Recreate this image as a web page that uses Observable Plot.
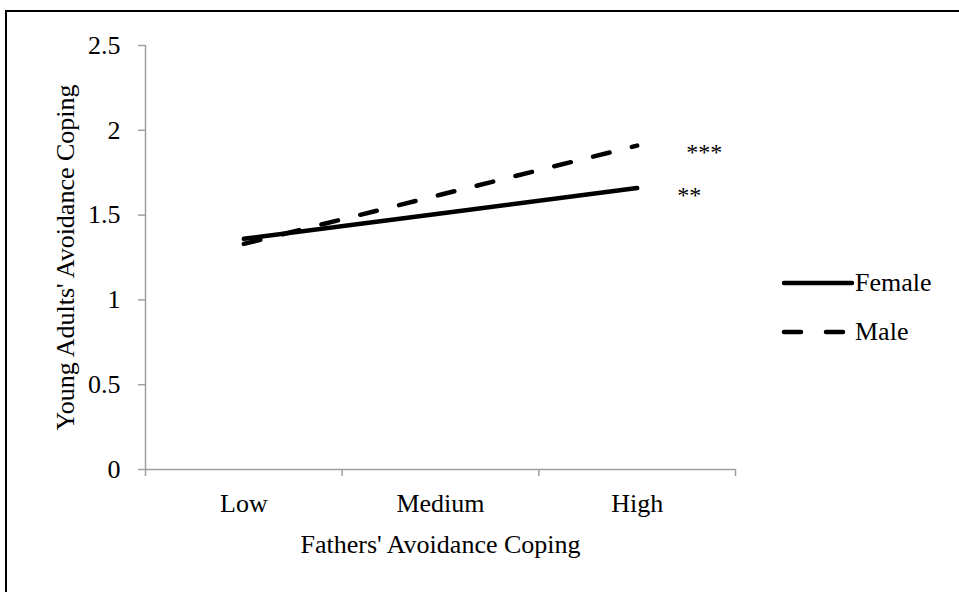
<!DOCTYPE html>
<html>
<head>
<meta charset="utf-8">
<script src="https://cdn.jsdelivr.net/npm/d3@7"></script>
<script src="https://cdn.jsdelivr.net/npm/@observablehq/plot@0.6"></script>
<style>
  html, body { margin: 0; padding: 0; background: #fff; }
  #wrap { position: relative; width: 959px; height: 592px; overflow: hidden; font-family: "Liberation Serif", "Times New Roman", serif; }
  #frame { position: absolute; left: 5px; top: 10px; width: 970px; height: 600px; border-left: 2px solid #000; border-top: 2px solid #000; box-sizing: border-box; }
  #chart { position: absolute; left: 0; top: 0; }
  #legend { position: absolute; left: 780px; top: 268px; font-size: 26px; color: #000; }
  #legend .row { display: flex; align-items: center; height: 30px; margin-bottom: 19px; }
  #legend svg { display: block; }
  g[aria-label="x-axis tick"] path, g[aria-label="y-axis tick"] path { stroke: #a0a0a0; stroke-width: 1.5; }
  g[aria-label^="y-axis"] text, g[aria-label^="x-axis"] text { font-size: 26px !important; }
</style>
</head>
<body>
<div id="wrap">
  <div id="frame"></div>
  <div id="chart"></div>
  <div id="legend"></div>
</div>
<script>
// ---- data ----
const categories = ["Low", "Medium", "High"];
const femaleValues = [1.36, 1.51, 1.66];
const maleValues = [1.33, 1.62, 1.91];
const seriesNames = ["Female", "Male"];
const significance = ["**", "***"];
const yTicks = [0, 0.5, 1, 1.5, 2, 2.5];
const xTitle = "Fathers' Avoidance Coping";
const yTitle = "Young Adults' Avoidance Coping";

const seriesValues = [femaleValues, maleValues];
const rows = seriesNames.flatMap((s, si) =>
  categories.map((c, i) => ({series: s, cat: c, idx: i, value: seriesValues[si][i]})));
const ends = seriesNames.map((s, si) => ({
  series: s, idx: categories.length - 1, value: seriesValues[si][categories.length - 1], mark: significance[si]
}));
const boundaries = d3.range(categories.length + 1).map(i => i - 0.5);
const axisColor = "#a0a0a0";

const plot = Plot.plot({
  width: 959,
  height: 592,
  marginLeft: 145,
  marginRight: 224,
  marginTop: 45,
  marginBottom: 123,
  style: {fontFamily: "Liberation Serif, Times New Roman, serif", fontSize: "26px", color: "#000", background: "transparent"},
  x: {
    type: "linear",
    domain: [-0.5, categories.length - 0.5],
    ticks: boundaries,
    tickFormat: () => "",
    tickSize: 7,
    label: xTitle,
    labelAnchor: "center",
    labelOffset: 83,
    labelArrow: "none"
  },
  y: {
    domain: [0, 2.5],
    ticks: yTicks,
    tickFormat: d => String(d),
    tickSize: 7,
    tickPadding: 18,
    label: yTitle,
    labelAnchor: "center",
    labelOffset: 90,
    labelArrow: "none"
  },
  marks: [
    Plot.ruleY([0], {stroke: axisColor, strokeWidth: 1.5}),
    Plot.ruleX([boundaries[0]], {stroke: axisColor, strokeWidth: 1.5}),
    Plot.text(categories, {x: (d, i) => i, text: d => d, frameAnchor: "bottom", dy: 42, fontSize: 26}),
    Plot.line(rows.filter(d => d.series === "Male"), {
      x: "idx", y: "value", stroke: "#000", strokeWidth: 4.5,
      strokeLinecap: "round", strokeDasharray: "17,23"
    }),
    Plot.line(rows.filter(d => d.series === "Female"), {
      x: "idx", y: "value", stroke: "#000", strokeWidth: 4.5, strokeLinecap: "round"
    }),
    Plot.text(ends.filter(d => d.series === "Female"), {x: "idx", y: "value", text: "mark", fontSize: 24, textAnchor: "start", dx: 40, dy: 7}),
    Plot.text(ends.filter(d => d.series === "Male"), {x: "idx", y: "value", text: "mark", fontSize: 24, textAnchor: "start", dx: 49, dy: 7})
  ]
});
document.getElementById("chart").appendChild(plot);

// ---- legend ----
const legend = d3.select("#legend");
seriesNames.forEach((s, si) => {
  const row = legend.append("div").attr("class", "row");
  const svg = row.append("svg").attr("width", 76).attr("height", 30);
  svg.append("line")
    .attr("x1", 4).attr("x2", 72).attr("y1", 15).attr("y2", 15)
    .attr("stroke", "#000").attr("stroke-width", 4.5).attr("stroke-linecap", "round")
    .attr("stroke-dasharray", si === 1 ? "17,25" : null);
  row.append("span").text(s).style("margin-left", "-1px");
});
</script>
</body>
</html>
